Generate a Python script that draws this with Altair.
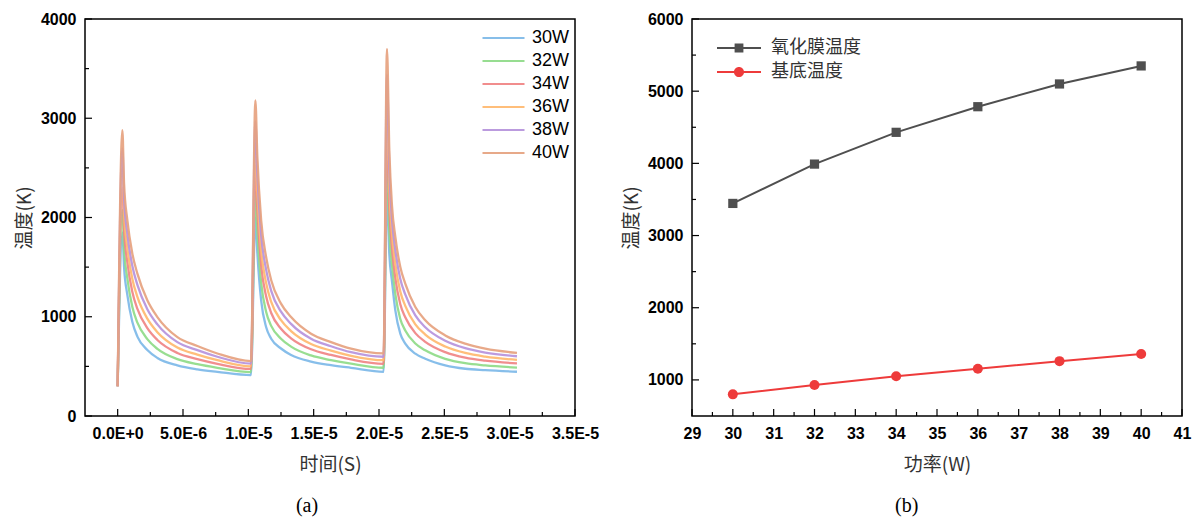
import altair as alt
import pandas as pd

# ---------------- panel (a): transient temperature ----------------
# time in units of 1e-5 s
time_e5 = [0, 0.036, 0.049, 0.074, 0.112, 0.151, 0.227, 0.304, 0.457, 0.61, 0.763, 1.02,
           1.054, 1.069, 1.098, 1.136, 1.175, 1.25, 1.327, 1.48, 1.633, 1.786, 2.035,
           2.061, 2.079, 2.1, 2.125, 2.163, 2.201, 2.278, 2.354, 2.507, 2.66, 2.813, 3.056]

temp_30w = [300, 1850, 1500, 1220, 950, 800, 665, 585, 510, 470, 445, 412,
            2000, 1640, 1166, 896, 779, 680, 615, 548, 512, 485, 445,
            2250, 1630, 1350, 1065, 830, 729, 628, 577, 510, 476, 462, 446]
temp_32w = [300, 2077, 1685, 1386, 1101, 940, 775, 676, 573, 522, 486, 443,
            2260, 1854, 1344, 1051, 908, 779, 699, 610, 563, 527, 486,
            2569, 1861, 1517, 1228, 978, 862, 731, 662, 576, 532, 510, 488]
temp_34w = [300, 2303, 1871, 1551, 1252, 1079, 885, 766, 635, 573, 526, 474,
            2519, 2067, 1521, 1207, 1038, 879, 783, 672, 615, 570, 526,
            2888, 2092, 1683, 1390, 1126, 995, 835, 747, 643, 587, 557, 530]
temp_36w = [300, 2499, 2031, 1694, 1383, 1200, 981, 845, 690, 618, 562, 501,
            2743, 2252, 1674, 1341, 1149, 965, 856, 725, 659, 607, 562,
            3164, 2291, 1827, 1531, 1253, 1110, 924, 821, 700, 635, 598, 566]
temp_38w = [300, 2695, 2191, 1837, 1513, 1321, 1076, 923, 744, 663, 597, 528,
            2968, 2436, 1828, 1475, 1261, 1051, 928, 778, 703, 643, 597,
            3439, 2490, 1971, 1671, 1381, 1225, 1013, 894, 758, 683, 639, 602]
temp_40w = [300, 2880, 2343, 1973, 1637, 1435, 1166, 997, 795, 705, 630, 553,
            3180, 2611, 1973, 1602, 1367, 1132, 997, 829, 745, 678, 630,
            3700, 2679, 2107, 1804, 1502, 1334, 1098, 964, 812, 729, 678, 636]

names_a = ["30W", "32W", "34W", "36W", "38W", "40W"]
colors_a = ["#7DB9E8", "#8FDB88", "#F08484", "#FFB96F", "#B693DC", "#E6A27F"]

x_major_a = [0, 5e-6, 1e-5, 1.5e-5, 2e-5, 2.5e-5, 3e-5, 3.5e-5]
x_labels_a = ["0.0E+0", "5.0E-6", "1.0E-5", "1.5E-5", "2.0E-5", "2.5E-5", "3.0E-5", "3.5E-5"]
x_minor_a = [2.5e-6, 7.5e-6, 1.25e-5, 1.75e-5, 2.25e-5, 2.75e-5, 3.25e-5]
y_major_a = [0, 1000, 2000, 3000, 4000]
y_minor_a = [500, 1500, 2500, 3500]

# ---------------- panel (b): temperature vs power ----------------
power = [30, 32, 34, 36, 38, 40]
oxide = [3445, 3990, 4430, 4785, 5100, 5350]
substrate = [800, 930, 1050, 1155, 1260, 1360]
names_b = ["氧化膜温度", "基底温度"]
colors_b = ["#4F4F4F", "#EE3B3B"]

x_major_b = [29, 30, 31, 32, 33, 34, 35, 36, 37, 38, 39, 40, 41]
x_minor_b = [29.5, 30.5, 31.5, 32.5, 33.5, 34.5, 35.5, 36.5, 37.5, 38.5, 39.5, 40.5]
y_major_b = [1000, 2000, 3000, 4000, 5000, 6000]
y_minor_b = [1500, 2500, 3500, 4500, 5500]

W, H = 490, 397
CJK = "Noto Sans CJK SC"
LAT = "Liberation Sans"

# ---------- build tables ----------
series_vals = [temp_30w, temp_32w, temp_34w, temp_36w, temp_38w, temp_40w]
rows = []
for name, vals in zip(names_a, series_vals):
    for t, v in zip(time_e5, vals):
        rows.append({"time": t * 1e-5, "temp": v, "series": name})
df_a = pd.DataFrame(rows)

rows_b = []
for p, o, s in zip(power, oxide, substrate):
    rows_b.append({"power": p, "temp": o, "series": names_b[0]})
    rows_b.append({"power": p, "temp": s, "series": names_b[1]})
df_b = pd.DataFrame(rows_b)


def xticks(vals, length, scale, axis):
    return alt.Chart(pd.DataFrame({"v": vals})).mark_rule(color="black", strokeWidth=1.2).encode(
        x=alt.X("v:Q", scale=scale, axis=axis), y=alt.value(H), y2=alt.value(H - length))


def yticks(vals, length, scale, axis):
    return alt.Chart(pd.DataFrame({"v": vals})).mark_rule(color="black", strokeWidth=1.2).encode(
        y=alt.Y("v:Q", scale=scale, axis=axis), x=alt.value(0), x2=alt.value(length))


def axis(values, title, **kw):
    return alt.Axis(values=values, title=title, labelFlush=False, labelFont="Arial, Liberation Sans",
                    labelFontWeight=700, labelFontSize=16, labelColor="black", **kw)


# ---------- panel (a) ----------
xs_a = alt.Scale(domain=[-2.5e-6, 3.5e-5], nice=False, zero=False)
ys_a = alt.Scale(domain=[0, 4000], nice=False)
label_expr_a = "[" + ",".join("'%s'" % s for s in x_labels_a) + "][round(datum.value / 5e-6)]"
xax_a = axis(x_major_a, "时间(S)", labelExpr=label_expr_a, titlePadding=14)
yax_a = axis(y_major_a, "温度(K)", format="d", titlePadding=6)

lines_a = alt.Chart(df_a).mark_line(strokeWidth=2.3, interpolate="monotone", opacity=0.92).encode(
    x=alt.X("time:Q", scale=xs_a, axis=xax_a),
    y=alt.Y("temp:Q", scale=ys_a, axis=yax_a),
    color=alt.Color("series:N", scale=alt.Scale(domain=names_a, range=colors_a),
                    legend=alt.Legend(title=None, orient="none", legendX=396, legendY=9,
                                      symbolType="stroke", symbolSize=1764, symbolStrokeWidth=2.2,
                                      clipHeight=20, rowPadding=3, labelFontSize=18, labelFont=LAT,
                                      labelColor="black", labelOffset=6, padding=0)),
    order=alt.Order("time:Q"),
)

left = alt.layer(
    lines_a,
    xticks(x_major_a, 7, xs_a, xax_a), xticks(x_minor_a, 4, xs_a, xax_a),
    yticks(y_major_a, 7, ys_a, yax_a), yticks(y_minor_a, 4, ys_a, yax_a),
).properties(width=W, height=H,
             title=alt.TitleParams("(a)", orient="bottom", anchor="middle", frame="bounds",
                                   font="Liberation Serif", fontSize=20, fontWeight="normal",
                                   color="black", offset=22))

# ---------- panel (b) ----------
xs_b = alt.Scale(domain=[29, 41], nice=False, zero=False)
ys_b = alt.Scale(domain=[500, 6000], nice=False, zero=False)
xax_b = axis(x_major_b, "功率(W)", format="d", titlePadding=14)
yax_b = axis(y_major_b, "温度(K)", format="d", titlePadding=6)

sq_path = "M-1,-0.045H1V0.045H-1Z M-0.2,-0.2H0.2V0.2H-0.2Z"
ci_path = "M-1,-0.045H1V0.045H-1Z M0.23,0A0.23,0.23,0,1,1,-0.23,0A0.23,0.23,0,1,1,0.23,0Z"

legend_b = alt.Legend(title=None, orient="none", legendX=25, legendY=19, symbolSize=1936,
                      symbolStrokeWidth=0, symbolOpacity=1, clipHeight=20, rowPadding=4,
                      labelFontSize=18, labelFont=CJK, labelColor="#333333", labelOffset=10,
                      padding=0)

base_b = alt.Chart(df_b).encode(
    x=alt.X("power:Q", scale=xs_b, axis=xax_b),
    y=alt.Y("temp:Q", scale=ys_b, axis=yax_b),
)

is_ox = alt.datum.series == names_b[0]
is_sub = alt.datum.series == names_b[1]
line_ox = base_b.mark_line(strokeWidth=2, color=colors_b[0]).transform_filter(is_ox)
line_sub = base_b.mark_line(strokeWidth=2, color=colors_b[1]).transform_filter(is_sub)
sq_b = base_b.mark_square(size=85, opacity=1, color=colors_b[0]).transform_filter(is_ox)
ci_b = base_b.mark_circle(size=100, opacity=1, color=colors_b[1]).transform_filter(is_sub)
leg_b = base_b.mark_point(filled=True, opacity=0).encode(
    color=alt.Color("series:N", scale=alt.Scale(domain=names_b, range=colors_b), legend=legend_b),
    shape=alt.Shape("series:N", scale=alt.Scale(domain=names_b, range=[sq_path, ci_path]),
                    legend=legend_b),
)

right = alt.layer(
    line_ox, line_sub, sq_b, ci_b, leg_b,
    xticks(x_major_b, 7, xs_b, xax_b), xticks(x_minor_b, 4, xs_b, xax_b),
    yticks(y_major_b, 7, ys_b, yax_b), yticks(y_minor_b, 4, ys_b, yax_b),
).properties(width=W, height=H,
             title=alt.TitleParams("(b)", orient="bottom", anchor="middle", frame="bounds",
                                   font="Liberation Serif", fontSize=20, fontWeight="normal",
                                   color="black", offset=22))

chart = alt.hconcat(left, right, spacing=21).resolve_scale(
    color="independent", shape="independent"
).resolve_legend(
    color="independent", shape="independent"
).properties(
    padding={"left": 6, "top": 2, "right": 0, "bottom": 0}
).configure_axis(
    grid=False, ticks=False, domain=False, labelPadding=9,
    titleColor="#333333", titleFont=CJK, titleFontWeight="normal", titleFontSize=19,
).configure_view(stroke="black", strokeWidth=1.5).configure_legend(padding=0)

chart.save("out.html", embed_options={"renderer": "svg", "actions": False})
